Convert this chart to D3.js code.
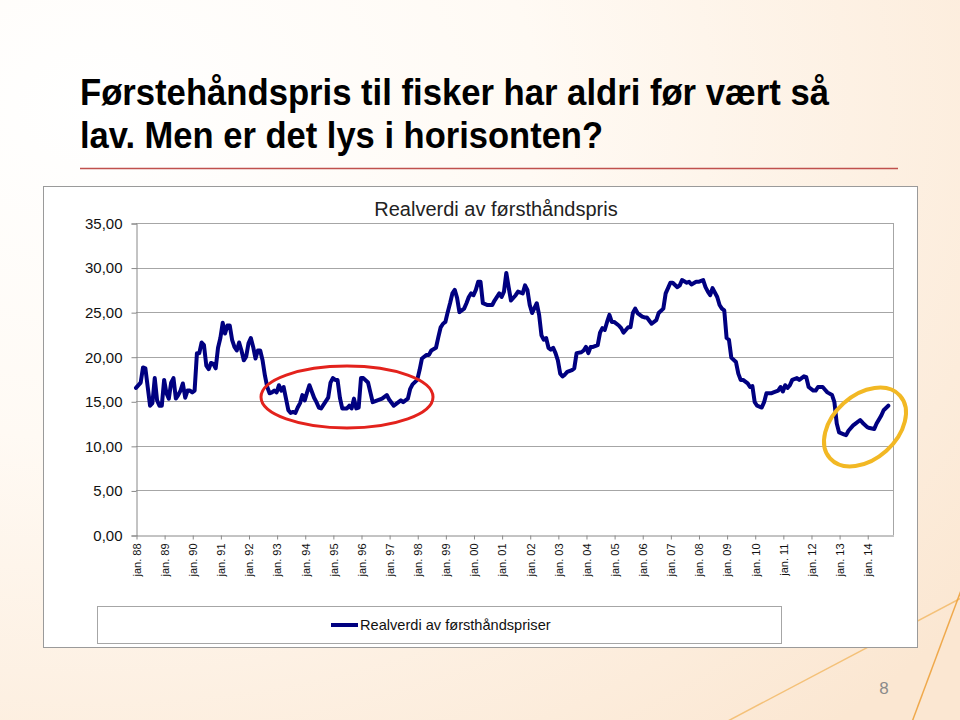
<!DOCTYPE html>
<html><head><meta charset="utf-8">
<script src="https://cdn.jsdelivr.net/npm/d3@7"></script>
<style>html,body{margin:0;padding:0;background:#fff;}svg{display:block;}</style>
</head><body>
<svg id="c" width="960" height="720"></svg>
<script>
// Month offsets from jan. 88 and real value of first-hand price
const months = [0,2,3,4,5,6,7,8,9,10,11,12,13,14,15,16,17,18,19,20,21,22,23,24,25,26,27,28,29,30,31,32,33,34,35,36,37,38,39,40,41,42,43,44,45,46,47,48,49,50,51,52,53,54,55,56,57,58,59,60,61,62,63,64,65,66,67,68,69,70,71,72,73,74,76,77,78,79,82,83,84,85,86,87,88,90,91,92,93,94,95,96,97,99,100,101,103,105,107,108,110,111,113,114,116,117,118,120,121,122,124,125,126,128,129,130,131,132,133,134,135,136,137,138,139,140,141,142,143,144,145,146,147,148,150,152,153,155,156,157,158,159,160,162,163,165,166,167,168,169,171,172,173,174,175,176,177,178,179,180,181,182,183,184,186,187,188,190,191,192,193,194,195,197,198,199,200,201,202,203,204,206,207,208,209,210,211,212,213,214,216,217,218,220,222,223,225,226,227,228,229,231,232,233,235,236,237,239,240,242,243,244,245,246,248,249,250,251,252,253,254,256,257,258,259,261,262,263,264,265,267,268,269,271,272,274,275,276,277,278,279,280,282,283,285,286,287,289,290,291,293,294,295,297,298,299,300,302,303,304,306,307,309,310,312,313,315,316,318,319,321];
const values = [16.5,17.1,18.8,18.7,16.6,14.5,14.8,17.6,15.1,14.5,14.5,17.4,15.9,15.3,17.1,17.6,15.3,15.7,16.2,17.0,15.4,16.2,16.2,16.0,16.2,20.4,20.4,21.6,21.3,19.0,18.6,19.3,19.2,18.7,21.0,22.1,23.8,22.6,23.5,23.5,21.9,21.1,20.7,21.6,20.7,19.6,20.0,21.5,22.1,21.1,19.8,20.7,20.7,19.6,17.9,16.6,15.9,16.0,16.2,16.0,16.8,16.2,16.6,15.3,14.0,13.7,13.8,13.7,14.3,14.8,15.7,15.1,16.0,16.8,15.4,14.9,14.3,14.2,15.4,17.1,17.6,17.4,17.4,15.4,14.2,14.2,14.5,14.2,15.3,14.2,14.3,17.6,17.6,17.1,16.0,14.9,15.1,15.3,15.7,15.2,14.5,14.7,15.1,14.9,15.3,16.4,16.9,17.4,18.5,19.8,20.2,20.2,20.7,21.0,22.2,23.3,23.7,23.9,25.0,26.0,27.1,27.5,26.6,25.0,25.2,25.4,26.0,26.7,27.1,26.9,27.5,28.4,28.4,26.0,25.8,25.8,26.3,27.1,26.7,27.3,29.4,27.8,26.3,26.9,27.3,27.1,28.0,27.5,25.8,24.9,26.0,24.7,22.4,21.9,22.1,21.0,20.8,21.0,20.4,19.6,18.1,17.8,18.0,18.3,18.5,18.7,20.4,20.5,20.7,21.1,20.4,21.1,21.1,21.3,22.7,23.2,23.0,23.9,24.7,23.9,23.9,23.5,23.2,22.7,23.0,23.3,23.3,24.9,25.4,24.9,24.5,24.4,24.4,23.7,24.1,24.9,25.4,27.1,27.7,28.3,28.3,27.8,28.0,28.6,28.3,28.4,28.1,28.4,28.4,28.6,27.8,27.3,26.9,27.7,26.7,25.8,25.4,25.2,22.1,21.9,19.9,19.4,18.1,17.4,17.4,17.0,16.6,16.7,14.9,14.5,14.3,14.9,15.9,15.9,16.0,16.2,16.6,16.1,16.8,16.5,16.8,17.4,17.6,17.4,17.8,17.7,16.6,16.2,16.2,16.6,16.6,16.3,16.0,15.7,14.9,12.5,11.5,11.3,11.2,11.7,12.3,12.5,12.9,12.6,12.1,12.0,11.9,12.5,13.4,14.0,14.5];
const yearLabels = ["jan. 88","jan. 89","jan. 90","jan. 91","jan. 92","jan. 93","jan. 94","jan. 95","jan. 96","jan. 97","jan. 98","jan. 99","jan. 00","jan. 01","jan. 02","jan. 03","jan. 04","jan. 05","jan. 06","jan. 07","jan. 08","jan. 09","jan. 10","jan. 11","jan. 12","jan. 13","jan. 14"];
const yTicks = [0,5,10,15,20,25,30,35];
const titleLines = ["Førstehåndspris til fisker har aldri før vært så","lav. Men er det lys i horisonten?"];
const chartTitle = "Realverdi av førsthåndspris";
const seriesName = "Realverdi av førsthåndspriser";

const svg = d3.select("#c");
const defs = svg.append("defs");
const g1 = defs.append("radialGradient").attr("id","bg").attr("cx","0.1").attr("cy","0.15").attr("r","1.15");
g1.append("stop").attr("offset","0").attr("stop-color","#ffffff");
g1.append("stop").attr("offset","0.4").attr("stop-color","#fffaf4");
g1.append("stop").attr("offset","1").attr("stop-color","#fbe7d2");
svg.append("rect").attr("width",960).attr("height",720).attr("fill","url(#bg)");

// decorative lines
svg.append("line").attr("x1",965).attr("y1",596).attr("x2",726).attr("y2",722).attr("stroke","#f2b45a").attr("stroke-width",1.5).attr("opacity",0.75);
svg.append("line").attr("x1",963).attr("y1",585).attr("x2",912).attr("y2",722).attr("stroke","#ee9f35").attr("stroke-width",1.5).attr("opacity",0.85);

// slide title
const font = "'Liberation Sans', Arial, Helvetica, sans-serif";
const tl = [[80,105,749],[80,148,523]];
titleLines.forEach((t,i)=>{
  svg.append("text").attr("x",tl[i][0]).attr("y",tl[i][1]).attr("font-family",font).attr("font-weight","bold")
    .attr("font-size",36).attr("fill","#000").attr("textLength",tl[i][2]).attr("lengthAdjust","spacingAndGlyphs").text(t);
});
svg.append("line").attr("x1",80).attr("x2",898).attr("y1",168.5).attr("y2",168.5).attr("stroke","#c0504d").attr("stroke-width",1.5);

// chart box
svg.append("rect").attr("x",43.5).attr("y",186.5).attr("width",874).attr("height",461).attr("fill","#fff").attr("stroke","#9a9a9a").attr("stroke-width",1);

const x = d3.scaleLinear().domain([0,323]).range([136,893]);
const y = d3.scaleLinear().domain([0,35]).range([535,223]);

// gridlines
svg.append("g").selectAll("line").data(yTicks.filter(d=>d>0)).join("line")
  .attr("x1",136).attr("x2",893).attr("y1",d=>Math.round(y(d))+0.5).attr("y2",d=>Math.round(y(d))+0.5)
  .attr("stroke","#a6a6a6").attr("stroke-width",1);
// right border
svg.append("line").attr("x1",893.5).attr("x2",893.5).attr("y1",223).attr("y2",535).attr("stroke","#a6a6a6");

// y axis
const yAxis = svg.append("g").attr("transform","translate(136.5,0.5)")
  .call(d3.axisLeft(y).tickValues(yTicks).tickSize(5).tickPadding(9).tickFormat(d=>d3.format(".2f")(d).replace(".",",")));
yAxis.select(".domain").attr("stroke","#888");
yAxis.selectAll(".tick line").attr("stroke","#888");
yAxis.selectAll("text").attr("font-family",font).attr("font-size",15).attr("fill","#111");

// x axis
const xAxis = svg.append("g").attr("transform","translate(0.5,535.5)")
  .call(d3.axisBottom(x).tickValues(yearLabels.map((d,i)=>i*12)).tickSize(4).tickSizeOuter(0).tickFormat((d,i)=>yearLabels[i]));
xAxis.select(".domain").attr("stroke","#888");
xAxis.selectAll(".tick line").attr("stroke","#888");
xAxis.selectAll("text").attr("font-family",font).attr("font-size",11).attr("fill","#111")
  .attr("transform","rotate(-90)").attr("text-anchor","end").attr("x",-8).attr("y",0).attr("dy","0.35em");

// chart title
svg.append("text").attr("x",496).attr("y",216).attr("text-anchor","middle").attr("font-family",font)
  .attr("font-size",20).attr("fill","#222").text(chartTitle);

// line
const line = d3.line().x((d,i)=>x(months[i])).y(d=>y(d)).curve(d3.curveLinear);
svg.append("path").datum(values).attr("d",line).attr("fill","none").attr("stroke","#000080")
  .attr("stroke-width",4).attr("stroke-linejoin","round").attr("stroke-linecap","round");

// highlight ellipses
svg.append("ellipse").attr("cx",347).attr("cy",397).attr("rx",86).attr("ry",31)
  .attr("fill","none").attr("stroke","#e3221c").attr("stroke-width",3);
svg.append("ellipse").attr("cx",0).attr("cy",0).attr("rx",47).attr("ry",32)
  .attr("transform","translate(865,427) rotate(-42)")
  .attr("fill","none").attr("stroke","#f2b824").attr("stroke-width",4);

// legend
svg.append("rect").attr("x",97.5).attr("y",606.5).attr("width",684).attr("height",37).attr("fill","#fff").attr("stroke","#a6a6a6");
svg.append("line").attr("x1",331).attr("x2",358).attr("y1",625).attr("y2",625).attr("stroke","#000080").attr("stroke-width",4);
svg.append("text").attr("x",360).attr("y",630).attr("font-family",font).attr("font-size",14.6).attr("fill","#111").text(seriesName);

// page number
svg.append("text").attr("x",884).attr("y",694).attr("text-anchor","middle").attr("font-family",font)
  .attr("font-size",17).attr("fill","#8a8a8a").text("8");
</script>
</body></html>
